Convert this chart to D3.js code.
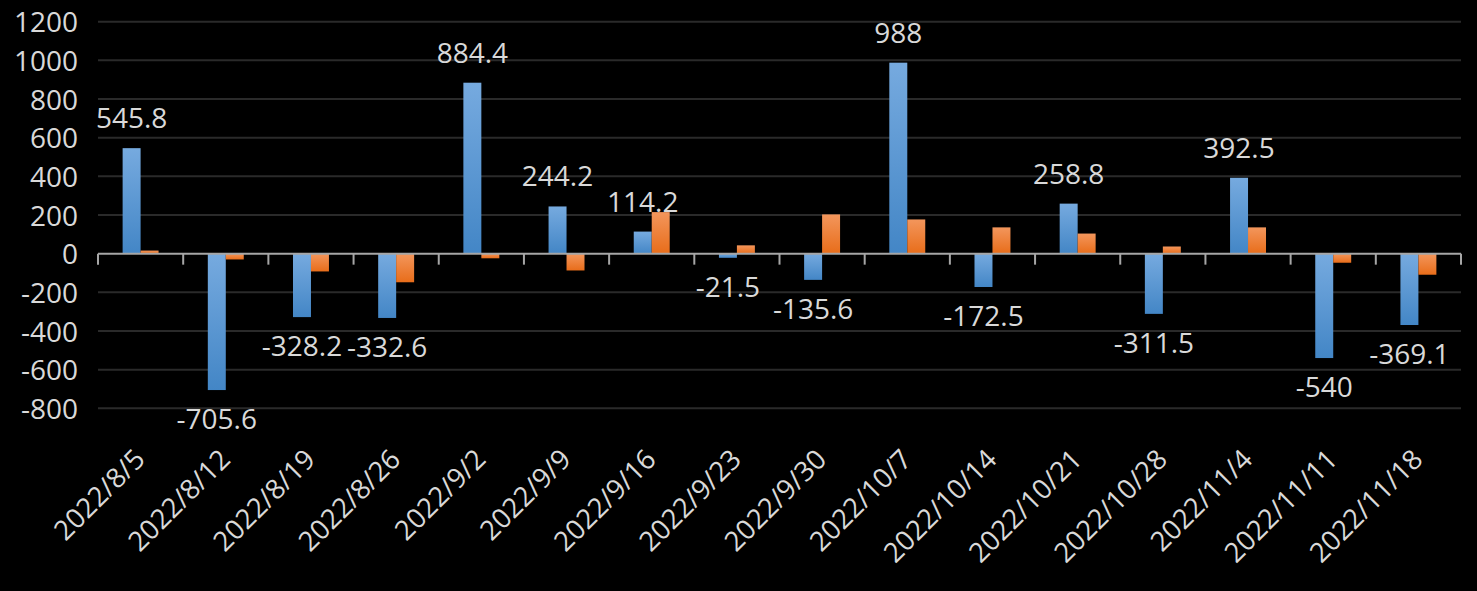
<!DOCTYPE html>
<html>
<head>
<meta charset="utf-8">
<script src="https://cdn.jsdelivr.net/npm/d3@7"></script>
<style>
  html, body { margin: 0; padding: 0; background: #000; }
  svg { display: block; }
  text { font-family: "Segoe UI", "Open Sans", "Noto Sans", sans-serif; }
</style>
</head>
<body>
<svg id="chart" width="1477" height="591"></svg>
<script>
const categories = ["2022/8/5","2022/8/12","2022/8/19","2022/8/26","2022/9/2","2022/9/9","2022/9/16","2022/9/23","2022/9/30","2022/10/7","2022/10/14","2022/10/21","2022/10/28","2022/11/4","2022/11/11","2022/11/18"];
const seriesA = [545.8, -705.6, -328.2, -332.6, 884.4, 244.2, 114.2, -21.5, -135.6, 988, -172.5, 258.8, -311.5, 392.5, -540, -369.1];
const seriesB = [16, -30, -92, -148, -24, -87, 215, 43, 203, 177, 136, 104, 37, 136, -47, -109];
const yTicks = [-800, -600, -400, -200, 0, 200, 400, 600, 800, 1000, 1200];
const seriesNames = ["A", "B"];

(function () {
const svg = d3.select("#chart");
const W = 1477, H = 591;
svg.append("rect").attr("width", W).attr("height", H).attr("fill", "#000");

const pLeft = 98, pRight = 1461, pTop = 21.7, pBottom = 408.3;

const x0 = d3.scaleBand().domain(categories).range([pLeft, pRight]).paddingInner(0).paddingOuter(0);
const x1 = d3.scaleBand().domain(seriesNames).range([0, x0.bandwidth()]).paddingInner(0).paddingOuter(1.37);
const y = d3.scaleLinear().domain([-800, 1200]).range([pBottom, pTop]);

const defs = svg.append("defs");
function grad(id, c1, c2) {
  const g = defs.append("linearGradient").attr("id", id)
    .attr("x1", 0).attr("y1", 0).attr("x2", 0).attr("y2", 1);
  g.append("stop").attr("offset", "0%").attr("stop-color", c1);
  g.append("stop").attr("offset", "100%").attr("stop-color", c2);
}
grad("gA", "#76aadf", "#4386c6");
grad("gB", "#f3965c", "#e86d1a");

// gridlines
svg.append("g").selectAll("line").data(yTicks.filter(d => d !== 0)).join("line")
  .attr("x1", pLeft).attr("x2", pRight)
  .attr("y1", d => y(d)).attr("y2", d => y(d))
  .attr("stroke", "#2a2a2a").attr("stroke-width", 2);

// y axis labels
const yAxis = d3.axisLeft(y).tickValues(yTicks).tickSize(0).tickPadding(0)
  .tickFormat(d => String(d));
const gy = svg.append("g").attr("transform", `translate(${78},0)`).call(yAxis);
gy.select(".domain").remove();
gy.selectAll("text")
  .attr("fill", "#d9d9d9").attr("font-size", 28)
  .attr("font-family", "'Segoe UI', 'Open Sans', sans-serif")
  .attr("dy", "0.36em");

// bars
const data = categories.map((c, i) => ({ c, vals: [ { k: "A", v: seriesA[i] }, { k: "B", v: seriesB[i] } ] }));
const groups = svg.append("g").selectAll("g").data(data).join("g")
  .attr("transform", d => `translate(${x0(d.c)},0)`);
groups.selectAll("rect").data(d => d.vals).join("rect")
  .attr("x", d => x1(d.k))
  .attr("width", x1.bandwidth())
  .attr("y", d => y(Math.max(0, d.v)))
  .attr("height", d => Math.abs(y(d.v) - y(0)))
  .attr("fill", d => d.k === "A" ? "url(#gA)" : "url(#gB)");

// x axis (zero line with ticks at band edges)
const xAxisG = svg.append("g");
xAxisG.append("line").attr("x1", pLeft).attr("x2", pRight)
  .attr("y1", y(0)).attr("y2", y(0)).attr("stroke", "#a6a6a6").attr("stroke-width", 2);
const edges = categories.map(c => x0(c)).concat([pRight]);
xAxisG.selectAll("line.tk").data(edges).join("line").attr("class", "tk")
  .attr("x1", d => d).attr("x2", d => d)
  .attr("y1", y(0)).attr("y2", y(0) + 11)
  .attr("stroke", "#a6a6a6").attr("stroke-width", 2);

// category labels
svg.append("g").selectAll("text").data(categories).join("text")
  .attr("transform", c => `translate(${x0(c) + x0.bandwidth() / 2 + 6},${461}) rotate(-45)`)
  .attr("text-anchor", "end")
  .attr("fill", "#d9d9d9").attr("font-size", 27.5)
  .text(c => c);

// value labels for series A
svg.append("g").selectAll("text").data(data).join("text")
  .attr("x", d => x0(d.c) + x1("A") + x1.bandwidth() / 2)
  .attr("y", d => d.vals[0].v >= 0 ? y(d.vals[0].v) - 20 : y(d.vals[0].v) + 39)
  .attr("text-anchor", "middle")
  .attr("fill", "#d9d9d9").attr("font-size", 28)
  .text(d => String(d.vals[0].v));
})();
</script>
</body>
</html>
